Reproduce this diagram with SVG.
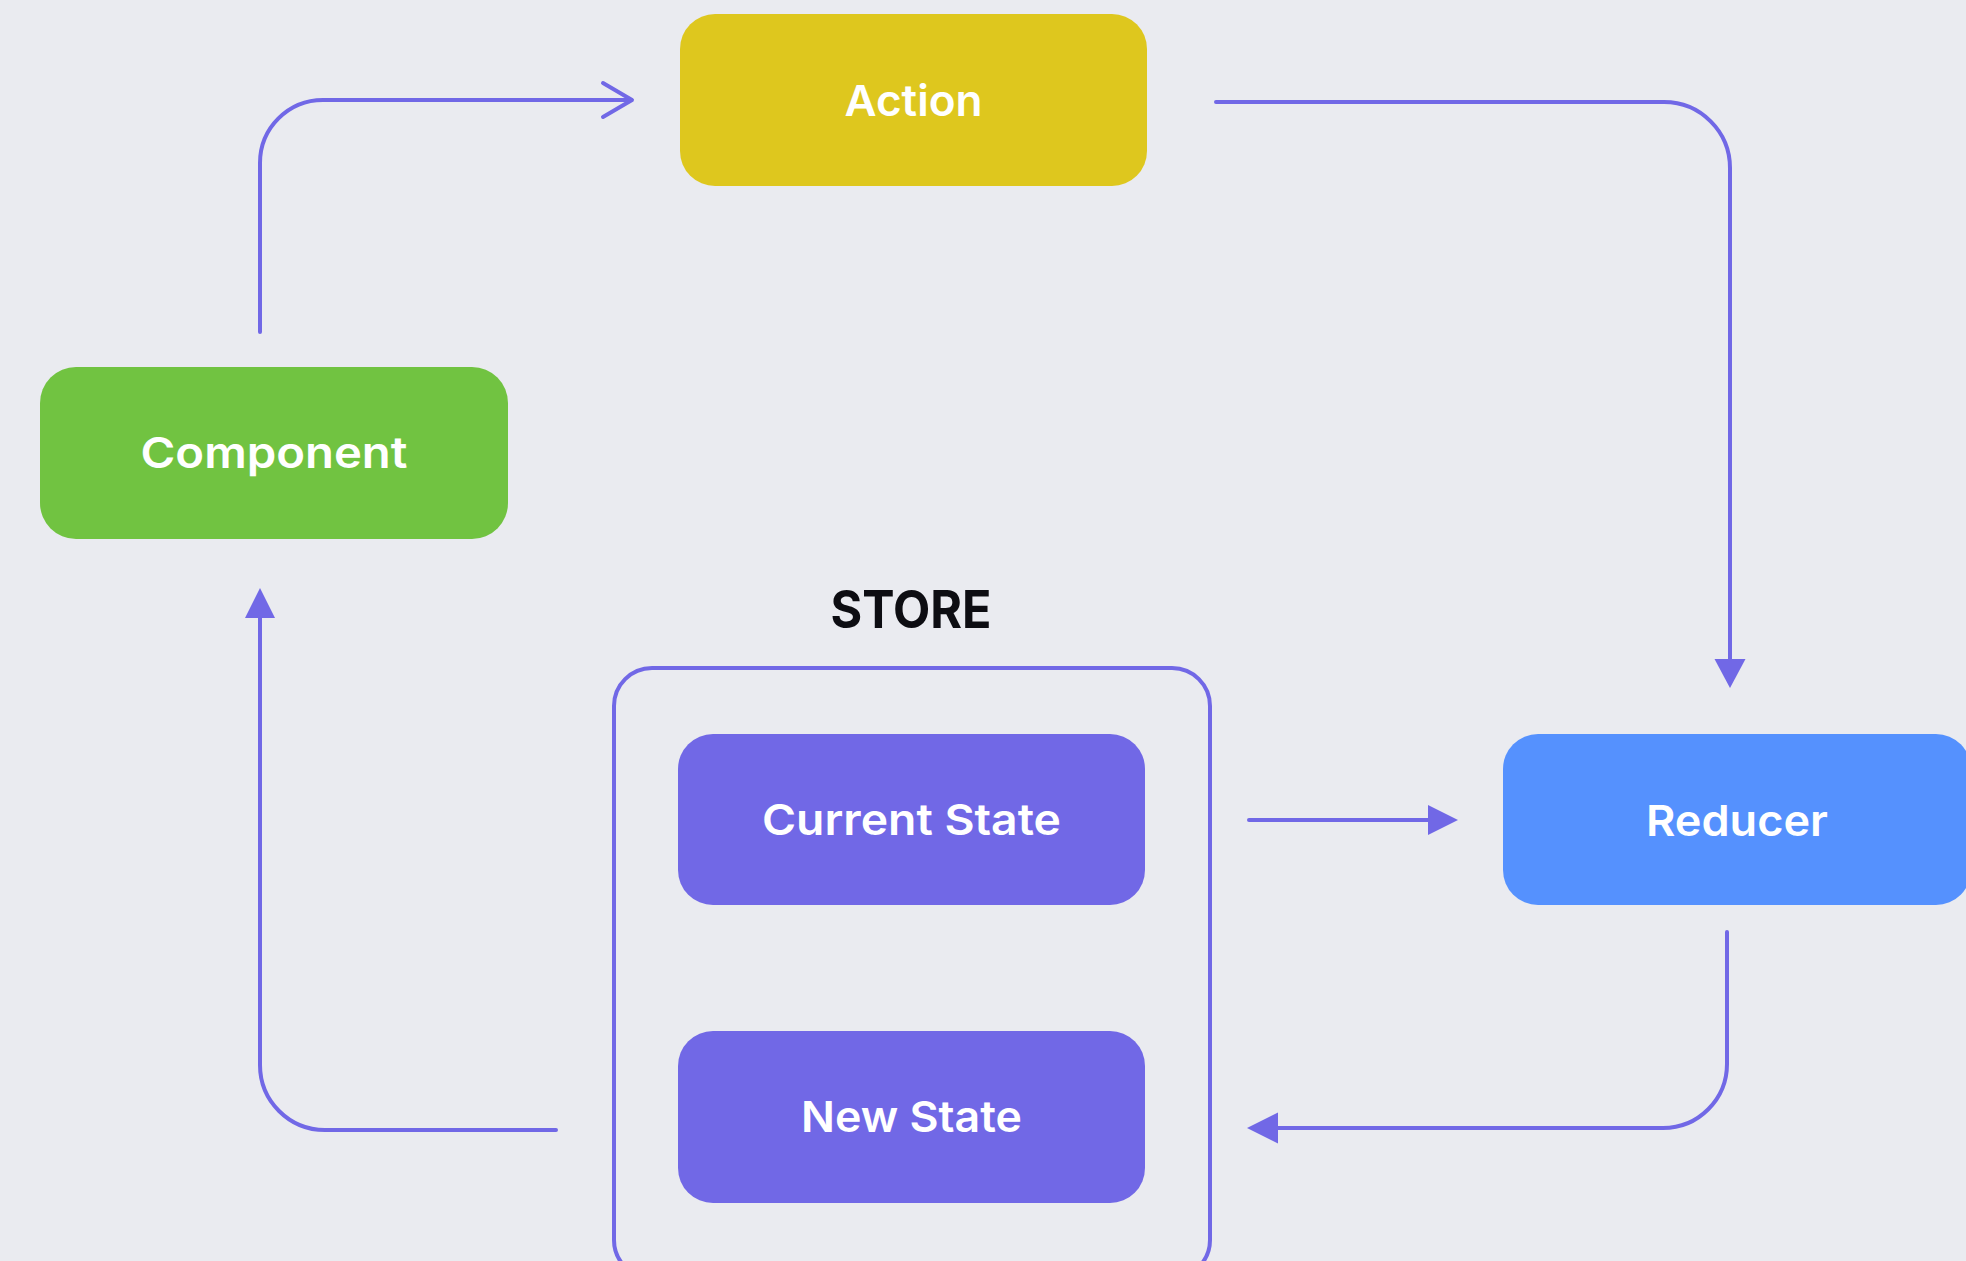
<svg xmlns="http://www.w3.org/2000/svg" width="1966" height="1261" viewBox="0 0 1966 1261">
  <style>
    .node-label { font-family: "Inter", "Open Sans", "Liberation Sans", sans-serif; font-weight: 600; font-size: 43px; fill: #ffffff; text-anchor: middle; }
    .store-label { font-family: "Inter", "Open Sans", "Liberation Sans", sans-serif; font-weight: 700; font-size: 52px; fill: #0d0d12; text-anchor: middle; }
    .edge { fill: none; stroke: #7168e6; stroke-width: 4; stroke-linecap: round; stroke-linejoin: round; }
    .head { fill: #7168e6; stroke: none; }
  </style>

  <rect x="0" y="0" width="1966" height="1261" fill="#eaebf0"/>

  <!-- Store container -->
  <g id="store">
    <rect x="614" y="668" width="596" height="610" rx="38" ry="38" fill="none" stroke="#7168e6" stroke-width="4"/>
    <text class="store-label" x="911" y="628" textLength="161" lengthAdjust="spacingAndGlyphs">STORE</text>
  </g>

  <g id="action">
    <rect x="680" y="14" width="467" height="172" rx="35" ry="35" fill="#dec71e"/>
    <text class="node-label" x="913.5" y="116" textLength="138" lengthAdjust="spacingAndGlyphs">Action</text>
  </g>

  <g id="component">
    <rect x="40" y="367" width="468" height="172" rx="36" ry="36" fill="#71c341"/>
    <text class="node-label" x="274" y="468" textLength="267" lengthAdjust="spacingAndGlyphs">Component</text>
  </g>

  <g id="current-state">
    <rect x="678" y="734" width="467" height="171" rx="35" ry="35" fill="#7168e6"/>
    <text class="node-label" x="911.5" y="835" textLength="299" lengthAdjust="spacingAndGlyphs">Current State</text>
  </g>

  <g id="new-state">
    <rect x="678" y="1031" width="467" height="172" rx="35" ry="35" fill="#7168e6"/>
    <text class="node-label" x="911.5" y="1132" textLength="221" lengthAdjust="spacingAndGlyphs">New State</text>
  </g>

  <g id="reducer">
    <rect x="1503" y="734" width="468" height="171" rx="35" ry="35" fill="#5591fe"/>
    <text class="node-label" x="1737" y="836" textLength="182" lengthAdjust="spacingAndGlyphs">Reducer</text>
  </g>

  <!-- Connectors -->
  <g id="connectors">
    <!-- Component to Action (open chevron head) -->
    <path class="edge" d="M260 332 V163 A63 63 0 0 1 323 100 H631"/>
    <path class="edge" d="M603 83 L632 100 L603 117"/>

    <!-- Action to Reducer -->
    <path class="edge" d="M1216 102 H1664 A66 66 0 0 1 1730 168 V660"/>
    <polygon class="head" points="1730,688 1714.5,659 1745.5,659"/>

    <!-- Current State to Reducer -->
    <path class="edge" d="M1249 820 H1430"/>
    <polygon class="head" points="1458,820 1428,805 1428,835"/>

    <!-- Reducer to New State -->
    <path class="edge" d="M1727 932 V1064 A64 64 0 0 1 1663 1128 H1276"/>
    <polygon class="head" points="1247,1128 1278,1112.5 1278,1143.5"/>

    <!-- New State to Component -->
    <path class="edge" d="M556 1130 H325 A65 65 0 0 1 260 1065 V616"/>
    <polygon class="head" points="260,588 245,618 275,618"/>
  </g>
</svg>
